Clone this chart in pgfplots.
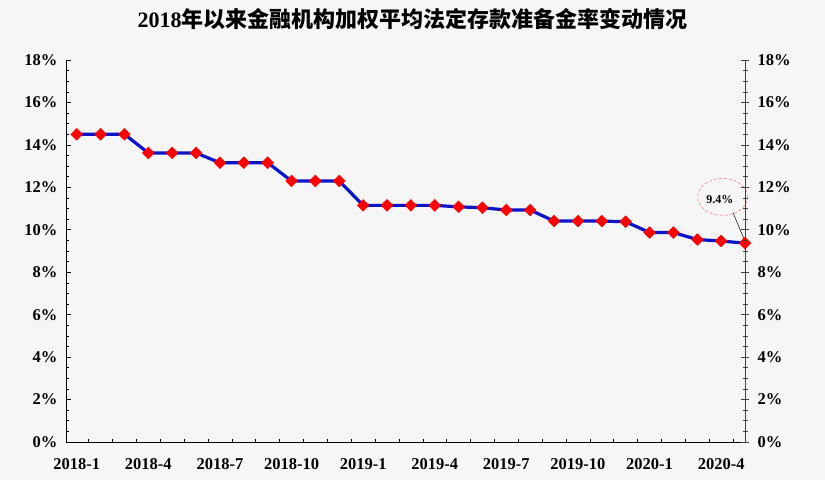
\documentclass[border=0pt]{standalone}
\usepackage{pgfplots}
\pgfplotsset{compat=1.18}
\usepackage{fontspec}
\setmainfont{Liberation Serif}
\newfontfamily\cjk{Noto Sans CJK SC}
\definecolor{bg}{HTML}{F6F6F6}
\definecolor{lineblue}{HTML}{0A14C8}
\pgfplotstableread{
x y
0 14.5
1 14.5
2 14.5
3 13.62
4 13.62
5 13.62
6 13.16
7 13.16
8 13.16
9 12.3
10 12.3
11 12.3
12 11.15
13 11.15
14 11.15
15 11.15
16 11.08
17 11.04
18 10.93
19 10.93
20 10.41
21 10.41
22 10.41
23 10.38
24 9.87
25 9.87
26 9.54
27 9.47
28 9.37
}\rrr
\begin{document}
\begin{tikzpicture}
\fill[bg] (0pt,0pt) rectangle (825pt,480pt);
\node[anchor=center] at (412.5pt,461pt) {\fontsize{22}{22}\selectfont\bfseries 2018\cjk\bfseries 年以来金融机构加权平均法定存款准备金率变动情况};
\begin{axis}[
  at={(66pt,38pt)}, anchor=south west, scale only axis,
  width=679pt, height=382pt,
  xmin=-0.45, xmax=28, ymin=0, ymax=18,
  clip=false,
  axis x line*=bottom, axis y line*=left,
  axis line style={black, line width=0.8pt},
  tick align=inside,
  major tick length=5pt, minor tick length=3.5pt,
  tick style={black, line width=0.6pt},
  ytick={0,2,...,18},
  yticklabels={0\%,2\%,4\%,6\%,8\%,10\%,12\%,14\%,16\%,18\%},
  minor y tick num=3,
  xtick={0,3,...,27},
  xticklabels={2018-1,2018-4,2018-7,2018-10,2019-1,2019-4,2019-7,2019-10,2020-1,2020-4},
  major x tick style={draw=none},
  minor xtick={0.5,1.5,...,27.5},
  ticklabel style={font=\bfseries\fontsize{16.5}{16.5}\selectfont},
  yticklabel style={xshift=-5pt},
  xticklabel style={yshift=-13pt},
]
\addplot[color=lineblue, line width=3.2pt, mark=square*, mark size=4.2pt,
  mark options={rotate=45, fill=red, draw=red, line width=0.4pt, solid}]
  table[x=x,y=y]{\rrr};
\draw[red!55, densely dashed, line width=0.5pt] (axis cs:27.06,11.55) ellipse [x radius=25pt, y radius=18.5pt];
\node[font=\bfseries\fontsize{12}{12}\selectfont] at (axis cs:26.95,11.4) {9.4\%};
\draw[black, line width=0.5pt] (axis cs:27.5,10.8) -- (axis cs:28,9.45);
\end{axis}
\begin{axis}[
  at={(66pt,38pt)}, anchor=south west, scale only axis,
  width=679pt, height=382pt,
  xmin=-0.45, xmax=28, ymin=0, ymax=18,
  axis x line=none, axis y line*=right,
  axis line style={black!75, line width=0.8pt},
  tick align=center,
  major tick length=8pt, minor tick length=5pt,
  tick style={black!75, line width=0.6pt},
  ytick={0,2,...,18},
  yticklabels={0\%,2\%,4\%,6\%,8\%,10\%,12\%,14\%,16\%,18\%},
  minor y tick num=3,
  ticklabel style={font=\bfseries\fontsize{16.5}{16.5}\selectfont},
  yticklabel style={xshift=5pt},
]
\addplot[draw=none] coordinates {(0,0)};
\end{axis}
\end{tikzpicture}
\end{document}
